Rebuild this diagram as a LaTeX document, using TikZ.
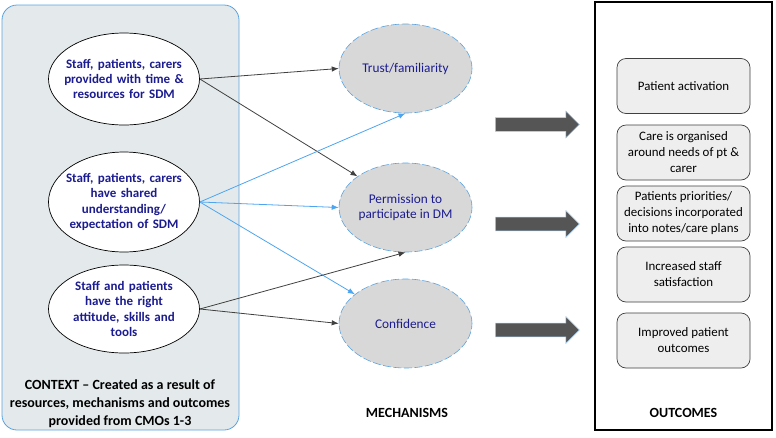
\documentclass[tikz,border=0pt]{standalone}
\usepackage{fontspec}
\setmainfont{Carlito}
\usepackage{tikz}
\usepackage{xcolor}
\definecolor{navy}{RGB}{28,28,145}
\definecolor{ctxfill}{RGB}{228,234,235}
\definecolor{ctxline}{RGB}{91,163,224}
\definecolor{mechfill}{RGB}{216,216,216}
\definecolor{darkline}{RGB}{64,64,64}
\definecolor{lightline}{RGB}{77,165,240}
\definecolor{fatgray}{RGB}{85,85,85}
\definecolor{glow}{RGB}{170,210,245}
\definecolor{outfill}{RGB}{238,238,238}
\usetikzlibrary{positioning, calc, shapes.geometric, shapes.arrows, arrows.meta}
\tikzstyle{Context} = [
ellipse, draw=black, fill=white, line width=0.7pt,
minimum width=151pt, inner xsep=-12pt, inner ysep=0pt, text width=130pt, align=center,
text=navy, font=\bfseries\fontsize{13}{15.3}\selectfont]
\tikzstyle{Mechanism} = [
ellipse, draw=ctxline, dash pattern=on 8pt off 2.5pt, fill=mechfill, line width=0.6pt,
minimum width=133pt, minimum height=89pt, inner sep=0pt, align=center,
text=navy, font=\fontsize{13.3}{15.5}\selectfont]
\tikzstyle{Outcome} = [
rectangle, rounded corners=9pt, draw=darkline, fill=outfill, line width=0.7pt,
minimum width=133pt, minimum height=55pt, inner sep=0pt, align=center,
font=\fontsize{12.9}{16}\selectfont]
\tikzstyle{Fat} = [
single arrow, fill=fatgray, draw=glow, line width=0.6pt,
inner xsep=0pt, inner ysep=6.5pt, text height=0pt, text depth=0pt,
minimum height=84pt, minimum width=27pt,
single arrow head extend=6.5pt, single arrow head indent=0pt, anchor=tail]
\tikzstyle{Arrow} = [
line width=0.8pt, draw=darkline, -{Latex[length=7pt,width=5.5pt]}]
\tikzstyle{BlueArrow} = [Arrow, draw=lightline]
\tikzstyle{Heading} = [font=\bfseries\fontsize{14}{18}\selectfont, align=center]
\begin{document}
\begin{tikzpicture}[x=1pt, y=-1pt]
    \useasboundingbox (0,0) rectangle (776,437);
    \node [draw=ctxline, fill=ctxfill, rounded corners=15pt, line width=0.8pt,
        minimum width=237pt, minimum height=425pt] (ctx) at (120.5,217.5) {};
    \node [draw=black, fill=white, line width=1.5pt,
        minimum width=177pt, minimum height=428pt] (out) at (683.5,216) {};

    \node [Context, minimum height=92pt] (c1) at (124,79)
        {Staff, patients, carers\\provided with time \&\\resources for SDM};
    \node [Context, minimum height=100pt] (c2) at (124,202)
        {Staff, patients, carers\\have shared\\understanding/\\expectation of SDM};
    \node [Context, minimum height=88pt] (c3) at (124,309)
        {Staff and patients\\have the right\\attitude, skills and\\tools};
    \node [Heading] (ctxlabel) at (120,404)
        {CONTEXT -- Created as a result of\\resources, mechanisms and outcomes\\provided from CMOs 1-3};

    \node [Mechanism] (m1) at (405.5,68.5) {Trust/familiarity};
    \node [Mechanism] (m2) at (405.5,207.5) {Permission to\\participate in DM};
    \node [Mechanism] (m3) at (405.5,323.5) {Confidence};
    \node [Heading] (mechlabel) at (407,413) {MECHANISMS};

    \node [Fat] (f1) at (495,124.5) {};
    \node [Fat] (f2) at (495,224) {};
    \node [Fat] (f3) at (495,330) {};

    \node [Outcome] (o1) at (683.5,86) {Patient activation};
    \node [Outcome] (o2) at (683.5,152.5) {Care is organised\\around needs of pt \&\\carer};
    \node [Outcome] (o3) at (683.5,213.5) {Patients priorities/\\decisions incorporated\\into notes/care plans};
    \node [Outcome] (o4) at (683.5,274.5) {Increased staff\\satisfaction};
    \node [Outcome] (o5) at (683.5,340.5) {Improved patient\\outcomes};
    \node [Heading] (outlabel) at (683.5,413) {OUTCOMES};

    \draw[Arrow] (c1.east) -- (m1.west);
    \draw[Arrow] (c1.east) -- (m2.147);
    \draw[BlueArrow] (c2.east) -- (m1.south);
    \draw[BlueArrow] (c2.east) -- (m2.west);
    \draw[BlueArrow] (c2.east) -- (m3.150);
    \draw[Arrow] (c3.east) -- (m2.south);
    \draw[Arrow] (c3.east) -- (m3.west);
\end{tikzpicture}
\end{document}
